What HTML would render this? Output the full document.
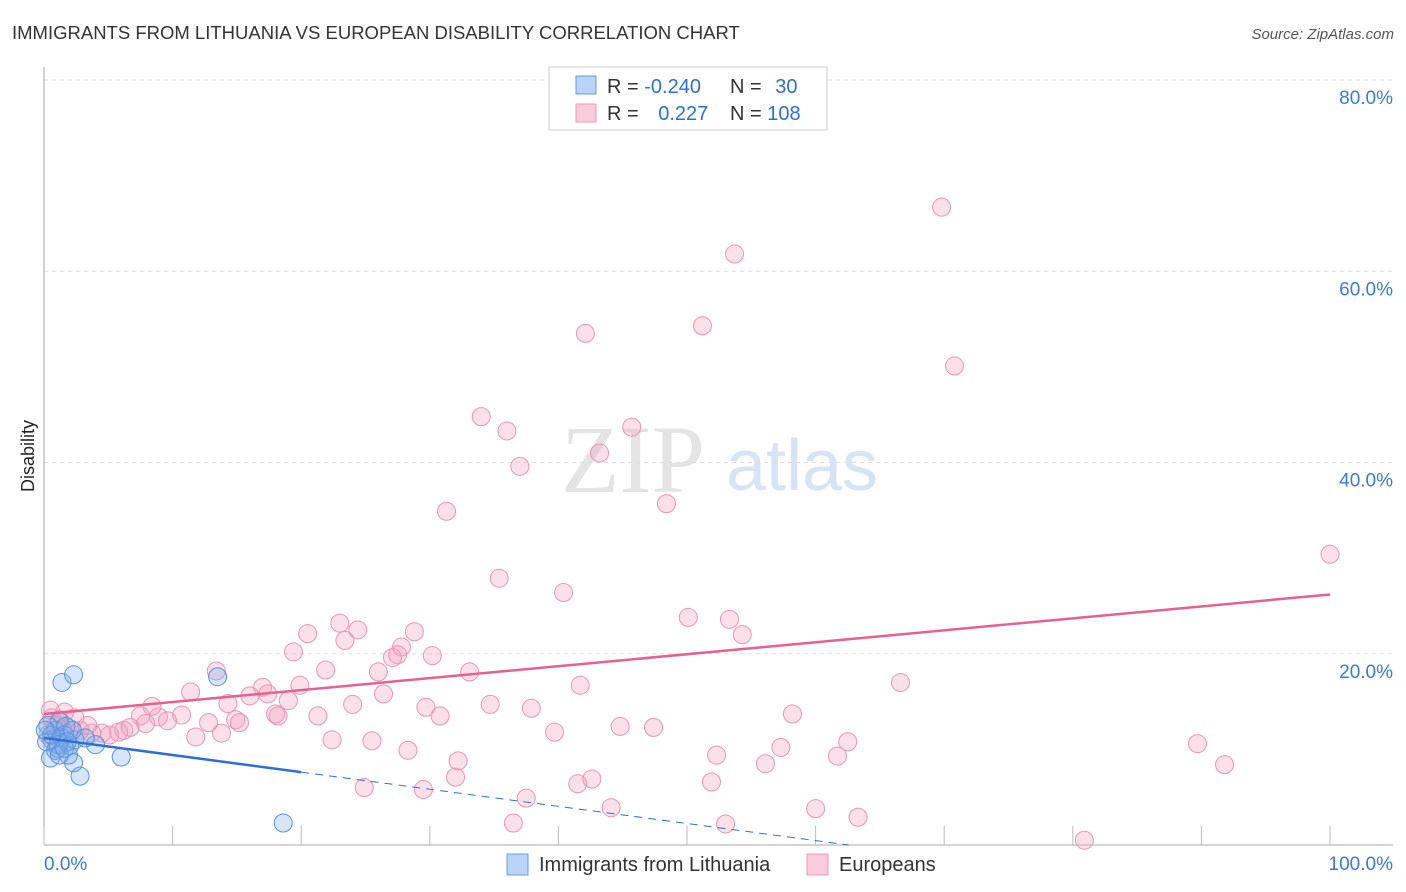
<!DOCTYPE html>
<html><head><meta charset="utf-8"><style>
body{margin:0;background:#fff;font-family:"Liberation Sans",sans-serif;}
svg{display:block}
</style></head><body>
<svg id="chart" width="1406" height="892" viewBox="0 0 1406 892" xmlns="http://www.w3.org/2000/svg">
<text x="12" y="39" font-size="18.5" fill="#333">IMMIGRANTS FROM LITHUANIA VS EUROPEAN DISABILITY CORRELATION CHART</text>
<text x="1394" y="39" font-size="15" font-style="italic" fill="#555" text-anchor="end">Source: ZipAtlas.com</text>
<text x="34" y="456" font-size="18" fill="#222" text-anchor="middle" transform="rotate(-90 34 456)">Disability</text>
<g>
<text x="633" y="492" font-size="96" fill="#e4e4e4" text-anchor="middle" font-family="Liberation Serif,serif">ZIP</text>
<text x="802" y="490" font-size="72" fill="#d6e4f5" text-anchor="middle">atlas</text>
</g>
<g id="grid"></g><g id="axes"></g><g id="pts"></g><g id="lines"></g>
<g>
<rect x="549" y="67" width="278" height="63" fill="#fff" stroke="#ccc"/>
<rect x="576" y="76" width="20" height="18" fill="#b8d3f5" stroke="#6a9edf"/>
<rect x="576" y="104" width="20" height="18" fill="#fccbdb" stroke="#ec9ab8"/>
<text x="607" y="93" font-size="20" fill="#333">R = <tspan fill="#2c6fd6">-0.240</tspan></text>
<text x="730" y="93" font-size="20" fill="#333">N = <tspan fill="#2c6fd6" dx="8">30</tspan></text>
<text x="607" y="120" font-size="20" fill="#333">R = <tspan fill="#2c6fd6" dx="14">0.227</tspan></text>
<text x="730" y="120" font-size="20" fill="#333">N = <tspan fill="#2c6fd6">108</tspan></text>
</g>
<g>
<rect x="507" y="854" width="21" height="21" fill="#b8d3f5" stroke="#6a9edf"/>
<text x="539" y="871" font-size="20" fill="#333">Immigrants from Lithuania</text>
<rect x="807" y="854" width="21" height="21" fill="#fccbdb" stroke="#ec9ab8"/>
<text x="839" y="871" font-size="20" fill="#333">Europeans</text>
</g>
</svg>
<script>
const yTicks=[20,40,60,80];
const yTickLabels=["20.0%","40.0%","60.0%","80.0%"];
const xTicks=[0,10,20,30,40,50,60,70,80,90,100];
const xEndLabels=["0.0%","100.0%"];
const blueX=[1.4,2.3,13.5,0.5,2.8,2.3,6.0,4.0,1.9,1.1,0.6,0.2,0.9,1.2,1.7,0.3,1.4,2.0,0.9,2.4,1.6,18.6,3.2,0.6,1.1,0.1,1.8,1.2,1.6,2.2];
const blueY=[17.0,17.8,17.6,9.1,7.2,8.6,9.2,10.5,9.4,10.1,11.0,10.8,12.0,12.9,12.4,12.5,11.2,10.4,9.9,11.0,11.5,2.3,11.2,11.5,10.5,12.0,10.8,9.4,10.1,12.0];
const pinkX=[69.8,53.7,42.1,51.2,70.8,34.0,36.0,45.7,43.2,37.0,31.3,48.4,100,35.4,40.4,50.1,53.3,54.3,20.5,23.0,24.4,23.4,28.8,27.8,27.5,27.1,30.2,19.4,21.9,26.0,33.1,13.4,11.4,17.0,17.4,19.9,41.7,66.6,8.4,14.3,16.0,19.0,24.0,26.4,29.7,34.7,37.9,10.7,8.9,9.6,12.8,14.9,15.2,18.0,18.2,21.3,30.8,58.2,44.8,47.4,7.5,7.9,6.2,5.8,4.5,3.7,2.8,2.0,1.4,0.6,0.5,0.9,11.8,13.8,22.4,25.5,39.7,28.3,32.2,52.3,57.3,62.5,61.7,56.1,89.7,91.8,32.0,24.9,29.5,42.6,41.5,51.9,37.5,44.1,60.0,63.3,36.5,53.0,80.9,5.1,6.7,3.4,2.4,1.6,1.2,0.3];
const pinkY=[66.7,61.8,53.5,54.3,50.1,44.8,43.3,43.7,41.0,39.6,34.9,35.7,30.4,27.9,26.4,23.8,23.6,22.0,22.1,23.2,22.5,21.4,22.3,20.7,19.9,19.6,19.8,20.2,18.3,18.1,18.1,18.2,16.0,16.5,15.8,16.7,16.7,17.0,14.5,14.8,15.6,15.1,14.7,15.8,14.4,14.7,14.3,13.6,13.4,13.0,12.8,13.1,12.8,13.7,13.5,13.5,13.5,13.7,12.4,12.3,13.5,12.7,12.0,11.8,11.7,11.7,12.0,12.2,12.2,13.3,14.1,12.5,11.3,11.7,11.0,10.9,11.8,9.9,8.8,9.4,10.2,10.8,9.3,8.5,10.6,8.4,7.1,6.0,5.8,6.9,6.4,6.6,4.9,3.9,3.8,2.9,2.3,2.2,0.5,11.5,12.3,12.5,13.3,13.9,13.1,11.5];
const blueTrend=[11.2,-0.179];
const pinkTrend=[13.7,0.125];
const X0=44,X1=1330,Y0=845,Y80=80;
const sx=v=>X0+(X1-X0)*v/100;
const sy=v=>Y0-(Y0-Y80)*v/80;
const NS="http://www.w3.org/2000/svg";
function mk(tag,attrs,parent){const e=document.createElementNS(NS,tag);for(const k in attrs)e.setAttribute(k,attrs[k]);document.getElementById(parent).appendChild(e);return e;}
yTicks.forEach((t,i)=>{
 const l=mk('line',{x1:X0,x2:1393,y1:sy(t),y2:sy(t),stroke:'#ddd','stroke-dasharray':'4,4'},'grid');
 
 
 const tx=mk('text',{x:1393,y:sy(t)+24,'font-size':19,fill:'#3a7bd5','text-anchor':'end'},'grid');
 tx.textContent=yTickLabels[i];
 
 
});
mk('line',{x1:X0,x2:X0,y1:67,y2:Y0,stroke:'#aaa'},'axes');
mk('line',{x1:X0,x2:1393,y1:Y0,y2:Y0,stroke:'#aaa'},'axes');
xTicks.forEach(t=>{const l=mk('line',{x1:sx(t),x2:sx(t),y1:826,y2:Y0,stroke:'#bbb'},'axes');
 
 });
const xl0=mk('text',{x:44,y:870,'font-size':19,fill:'#3a7bd5'},'axes');xl0.textContent=xEndLabels[0];


const xl1=mk('text',{x:1393,y:870,'font-size':19,fill:'#3a7bd5','text-anchor':'end'},'axes');xl1.textContent=xEndLabels[1];


pinkX.forEach((x,i)=>{const c=mk('circle',{cx:sx(x),cy:sy(pinkY[i]),r:9,fill:'rgba(244,160,190,0.33)',stroke:'#e896b4','stroke-width':1},'pts');
 
 });
blueX.forEach((x,i)=>{const c=mk('circle',{cx:sx(x),cy:sy(blueY[i]),r:9,fill:'rgba(120,170,235,0.3)',stroke:'#5b93d8','stroke-width':1},'pts');
 
 });
const by=x=>blueTrend[0]+blueTrend[1]*x, py=x=>pinkTrend[0]+pinkTrend[1]*x;
const xEnd=-blueTrend[0]/blueTrend[1];
const bl=mk('line',{x1:sx(0),y1:sy(by(0)),x2:sx(20),y2:sy(by(20)),stroke:'#2c6fd6','stroke-width':2.5},'lines');


const bd=mk('line',{x1:sx(20),y1:sy(by(20)),x2:sx(xEnd),y2:sy(0),stroke:'#2c6fd6','stroke-width':1,'stroke-dasharray':'8,6'},'lines');


const pl=mk('line',{x1:sx(0),y1:sy(py(0)),x2:sx(100),y2:sy(py(100)),stroke:'#e8608c','stroke-width':2.5},'lines');


</script>
</body></html>
